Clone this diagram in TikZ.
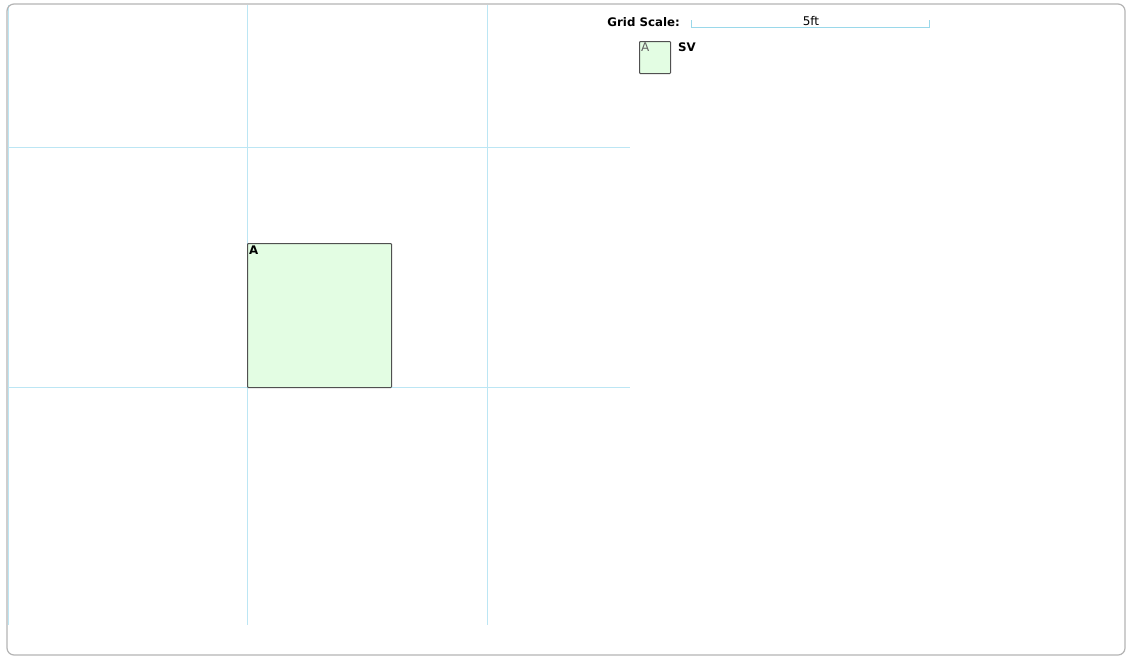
\documentclass[tikz,border=0pt]{standalone}
\usepackage{fontspec}
\setmainfont{DejaVu Sans}
\definecolor{gridc}{HTML}{BCE6F4}
\definecolor{framec}{HTML}{B4B4B4}
\definecolor{boxfill}{HTML}{E3FDE3}
\definecolor{boxline}{HTML}{505050}
\definecolor{scalec}{HTML}{9AD8EA}
\tikzset{
  gridfill/.style={fill=gridc},
  roombox/.style={draw=boxline, fill=boxfill, line width=1pt, rounded corners=0.8pt},
  lbl/.style={font=\fontsize{11.8}{13}\selectfont\bfseries, inner sep=0pt},
  plain/.style={font=\fontsize{12}{13}\selectfont, inner sep=0pt}
}
\begin{document}
\begin{tikzpicture}[x=1pt,y=-1pt]
\useasboundingbox (0,0) rectangle (1126,656);
\fill[white] (0,0) rectangle (1126,656);
% grid
\fill[gridfill] (8,5) rectangle (9.2,625);
\fill[gridfill] (247,5) rectangle (248.2,625);
\fill[gridfill] (487,5) rectangle (488.2,625);
\fill[gridfill] (8,147) rectangle (630,148.2);
\fill[gridfill] (8,387) rectangle (630,388.2);
% frame
\draw[framec, line width=1.2pt, rounded corners=7pt] (7,4) rectangle (1125,655);
% room A
\draw[roombox] (247.5,243.5) rectangle (391.5,387.5);
\node[lbl, anchor=north west] (a) at (249,246) {A};
% grid scale
\node[lbl, anchor=east] (gs) at (680,22) {Grid Scale:};
\coordinate (s1) at (691.5,27.5);
\coordinate (s2) at (929.5,27.5);
\draw[scalec, line width=1.2pt] (691.5,20) -- (s1) -- (s2) -- (929.5,20);
\node[plain, anchor=south] (ft) at (811,26) {5ft};
% legend
\draw[roombox] (639.5,41.5) rectangle (670.5,73.5);
\node[plain, anchor=north west, text=boxline!90] (la) at (641,43) {A};
\node[lbl, anchor=north west] (sv) at (678,43) {SV};
\end{tikzpicture}
\end{document}
